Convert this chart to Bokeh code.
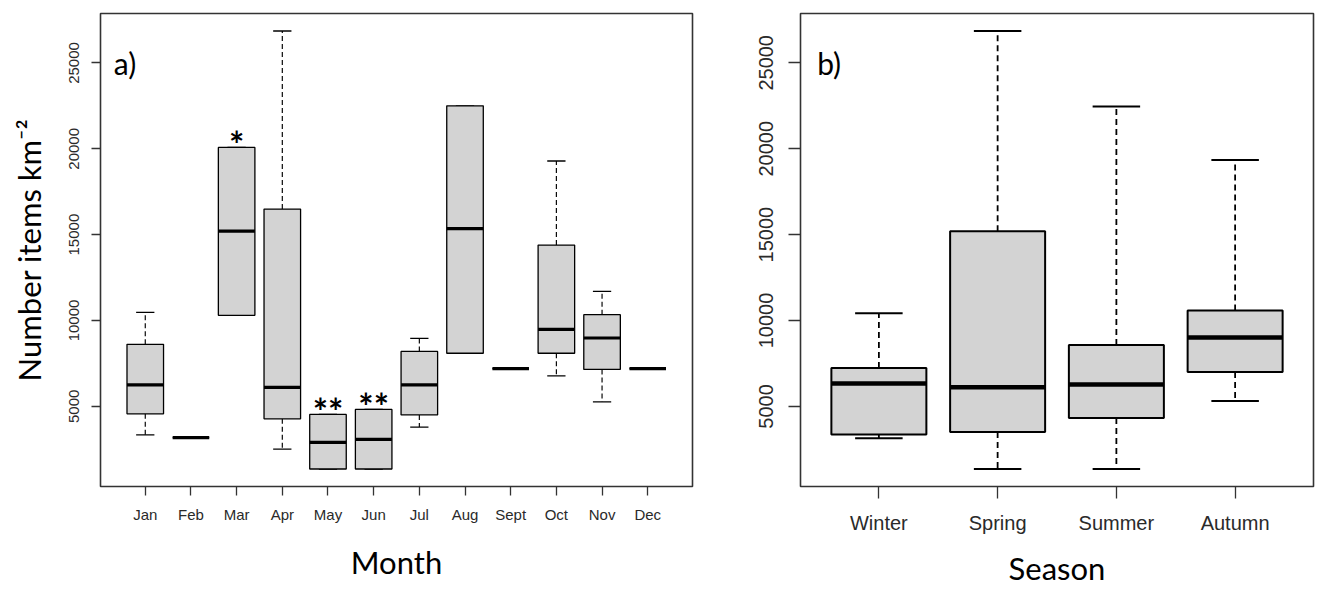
from bokeh.plotting import figure
from bokeh.layouts import row
from bokeh.models import Range1d, FixedTicker, Label
from bokeh.embed import file_html
from bokeh.resources import INLINE
from bokeh.core.properties import value

# ---- panel a) monthly data ----
months = ["Jan", "Feb", "Mar", "Apr", "May", "Jun", "Jul", "Aug", "Sept", "Oct", "Nov", "Dec"]
m_low = [3340, 3180, 10300, 2510, 1350, 1350, 3790, 8090, 7190, 6770, 5260, 7190]
m_q1 = [4560, 3180, 10300, 4270, 1350, 1350, 4500, 8090, 7190, 8090, 7150, 7190]
m_med = [6250, 3180, 15200, 6100, 2900, 3070, 6250, 15350, 7190, 9480, 8980, 7190]
m_q3 = [8610, 3180, 20080, 16490, 4530, 4820, 8200, 22500, 7190, 14390, 10340, 7190]
m_high = [10470, 3180, 20080, 26860, 4530, 4820, 8960, 22500, 7190, 19290, 11690, 7190]
m_sig = ["", "", "*", "", "**", "**", "", "", "", "", "", ""]

# ---- panel b) seasonal data ----
seasons = ["Winter", "Spring", "Summer", "Autumn"]
s_low = [3150, 1360, 1360, 5320]
s_q1 = [3360, 3510, 4330, 7000]
s_med = [6340, 6120, 6270, 9010]
s_q3 = [7240, 15190, 8570, 10580]
s_high = [10430, 26850, 22460, 19350]

y_ticks = [5000, 10000, 15000, 20000, 25000]

LABEL_FONT = "Lato"
TICK_FONT = "Liberation Sans"


def make_panel(cats, low, q1, med, q3, high, width, height, borders, tick_size,
               xtick_out, ytick_out, xstand, ystand, xlab_stand, ylab_stand,
               box_lw, med_lw, dash, xlabel, ylabel, letter):
    n = len(cats)
    xs = list(range(1, n + 1))
    allv = low + q1 + med + q3 + high
    lo, hi = min(allv), max(allv)
    pad = 0.04 * (hi - lo)
    xpad = 0.04 * n
    p = figure(width=width, height=height, output_backend="svg", toolbar_location=None,
               x_range=Range1d(0.5 - xpad, n + 0.5 + xpad),
               y_range=Range1d(lo - pad, hi + pad),
               min_border_left=borders[0], min_border_right=borders[1],
               min_border_top=borders[2], min_border_bottom=borders[3])
    p.background_fill_color = "white"
    p.border_fill_color = "white"
    p.outline_line_color = "#333333"
    p.outline_line_width = 1.6
    p.xgrid.visible = False
    p.ygrid.visible = False

    left = [x - 0.4 for x in xs]
    right = [x + 0.4 for x in xs]
    cl = [x - 0.2 for x in xs]
    cr = [x + 0.2 for x in xs]

    # whiskers (dashed)
    p.segment(x0=xs, y0=q3, x1=xs, y1=high, line_color="black", line_width=box_lw * 0.9,
              line_dash=dash)
    p.segment(x0=xs, y0=q1, x1=xs, y1=low, line_color="black", line_width=box_lw * 0.9,
              line_dash=dash)
    # staples
    p.segment(x0=cl, y0=high, x1=cr, y1=high, line_color="black", line_width=box_lw)
    p.segment(x0=cl, y0=low, x1=cr, y1=low, line_color="black", line_width=box_lw)
    # boxes
    p.quad(left=left, right=right, bottom=q1, top=q3, fill_color="#d3d3d3",
           line_color="black", line_width=box_lw)
    # medians
    p.segment(x0=left, y0=med, x1=right, y1=med, line_color="black", line_width=med_lw)

    # axes
    for ax in (p.xaxis, p.yaxis):
        ax.axis_line_color = None
        ax.minor_tick_line_color = None
        ax.major_tick_in = 0
        ax.major_tick_line_color = "#333333"
        ax.major_tick_line_width = 1.3
        ax.major_label_text_font = TICK_FONT
        ax.major_label_text_font_size = tick_size
        ax.major_label_text_color = "#2a2a2a"
        ax.axis_label_text_font = LABEL_FONT
        ax.axis_label_text_font_size = "31px"
        ax.axis_label_text_font_style = "normal"
        ax.axis_label_text_color = "black"
    p.xaxis.major_tick_out = xtick_out
    p.yaxis.major_tick_out = ytick_out
    p.xaxis.ticker = FixedTicker(ticks=xs)
    p.xaxis.major_label_overrides = {x: c for x, c in zip(xs, cats)}
    p.xaxis.major_label_standoff = xstand
    p.xaxis.axis_label = xlabel
    p.xaxis.axis_label_standoff = xlab_stand
    p.yaxis.ticker = FixedTicker(ticks=y_ticks)
    p.yaxis.major_label_orientation = "vertical"
    p.yaxis.major_label_standoff = ystand
    if ylabel:
        p.yaxis.axis_label = ylabel
        p.yaxis.axis_label_standoff = ylab_stand

    p.add_layout(Label(x=letter[1], y=letter[2], text=letter[0], text_font=LABEL_FONT,
                       text_font_size="30px", text_color="black", text_baseline="alphabetic"))
    return p, xs


p1, xs1 = make_panel(months, m_low, m_q1, m_med, m_q3, m_high, 696, 589, (100, 4, 12, 0),
                     "15px", 9, 9, 10, 12, 17, 19, 1.3, 3.2, "5 3",
                     "Month", "Number items km\u207b\u00b2", ("a)", 0.31, 25000))

p1.text(x=xs1, y=m_q3, text=m_sig, text_align="center", text_baseline="alphabetic",
        y_offset=-3, text_font=value(LABEL_FONT), text_font_size="36px",
        text_font_style="bold", text_color="black")

p2, xs2 = make_panel(seasons, s_low, s_q1, s_med, s_q3, s_high, 619, 589, (104, 2, 13, 0),
                     "20px", 12, 12, 13, 15, 12, 10, 2.0, 4.5, "6 4",
                     "Season", None, ("b)", 0.48, 24980))

layout = row(p1, p2)
open("out.html", "w").write(file_html(layout, INLINE))
